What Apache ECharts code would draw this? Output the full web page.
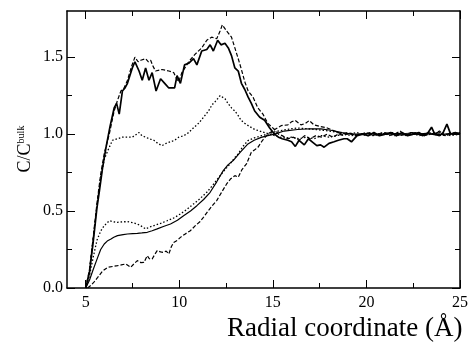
<!DOCTYPE html>
<html>
<head>
<meta charset="utf-8">
<script src="https://cdn.jsdelivr.net/npm/echarts@6/dist/echarts.min.js"></script>
<style>
html,body{margin:0;padding:0;background:#fff;}
#chart{width:471px;height:343px;}
</style>
</head>
<body>
<div id="chart"></div>
<script>
// ---- data ----
const xMajorTicks = [5, 10, 15, 20, 25];
const xMinorTicks = [7.5, 12.5, 17.5, 22.5];
const yMajorTicks = [0, 0.5, 1.0, 1.5];
const yMinorTicks = [0.25, 0.75, 1.25];

const upperSolid = [[5.0,0],[5.2,0.1],[5.4,0.3],[5.6,0.52],[5.73,0.63],[5.9,0.78],[6.08,0.91],[6.3,1.05],[6.52,1.17],[6.65,1.2],[6.79,1.13],[6.96,1.28],[7.1,1.3],[7.23,1.33],[7.49,1.43],[7.63,1.47],[7.85,1.41],[8.02,1.35],[8.2,1.43],[8.38,1.35],[8.55,1.40],[8.76,1.28],[9.0,1.36],[9.22,1.33],[9.44,1.30],[9.75,1.30],[9.88,1.38],[10.06,1.33],[10.28,1.45],[10.5,1.46],[10.76,1.49],[10.94,1.45],[11.2,1.54],[11.47,1.55],[11.65,1.58],[11.82,1.54],[12.05,1.61],[12.23,1.58],[12.44,1.59],[12.62,1.56],[12.79,1.51],[12.97,1.43],[13.15,1.41],[13.32,1.33],[13.5,1.29],[13.68,1.24],[13.85,1.20],[14.03,1.15],[14.3,1.11],[14.56,1.09],[14.83,1.04],[15.09,1.0],[15.3,0.98],[15.5,0.97],[15.8,0.96],[16.0,0.95],[16.2,0.92],[16.4,0.96],[16.68,0.93],[16.9,0.97],[17.1,0.95],[17.35,0.925],[17.55,0.93],[17.74,0.915],[18.0,0.94],[18.27,0.95],[18.5,0.96],[18.8,0.97],[18.97,0.97],[19.2,0.95],[19.5,0.99],[19.8,1.0],[20.1,0.99],[20.4,1.01],[20.7,0.99],[21.0,1.0],[21.3,1.01],[21.6,0.99],[21.9,1.01],[22.2,0.99],[22.5,1.0],[22.8,1.01],[23.1,0.99],[23.3,1.01],[23.48,1.045],[23.65,1.0],[23.9,0.99],[24.1,1.01],[24.3,1.065],[24.5,1.0],[24.75,1.01],[25,1.0]];

const upperDashed = [[5.0,0],[5.2,0.12],[5.4,0.33],[5.6,0.55],[5.8,0.74],[6.0,0.88],[6.26,1.0],[6.52,1.15],[6.7,1.22],[6.88,1.28],[7.05,1.30],[7.23,1.35],[7.45,1.44],[7.63,1.50],[7.8,1.47],[7.94,1.48],[8.2,1.49],[8.35,1.47],[8.47,1.48],[8.6,1.44],[8.73,1.41],[9.08,1.42],[9.44,1.41],[9.7,1.40],[9.85,1.36],[9.97,1.34],[10.14,1.40],[10.3,1.43],[10.5,1.47],[10.85,1.52],[11.2,1.56],[11.47,1.61],[11.73,1.63],[12.0,1.62],[12.18,1.67],[12.3,1.71],[12.53,1.67],[12.79,1.63],[12.97,1.56],[13.15,1.49],[13.32,1.42],[13.5,1.34],[13.68,1.28],[13.94,1.24],[14.2,1.17],[14.47,1.13],[14.73,1.07],[15.09,1.03],[15.3,1.0],[15.5,0.99],[15.8,0.97],[16.1,0.98],[16.4,0.96],[16.7,0.99],[17.0,0.97],[17.3,0.99],[17.6,0.98],[17.9,1.0],[18.2,0.98],[18.5,1.0],[18.8,0.99],[19.1,1.01],[19.4,0.99],[19.7,1.0],[20.0,1.01],[20.3,0.99],[20.6,1.0],[20.9,1.01],[21.2,0.99],[21.5,1.0],[21.8,1.02],[22.1,0.99],[22.4,1.01],[22.7,1.0],[23.0,0.99],[23.3,1.01],[23.6,1.0],[23.9,1.02],[24.2,0.99],[24.5,1.01],[24.8,1.0],[25,1.01]];

const upperDotted = [[5.0,0],[5.2,0.11],[5.4,0.32],[5.6,0.54],[5.8,0.72],[6.0,0.84],[6.17,0.89],[6.43,0.96],[6.7,0.97],[6.96,0.98],[7.2,0.98],[7.49,0.98],[7.85,1.01],[8.0,0.99],[8.2,0.98],[8.4,0.97],[8.64,0.96],[8.85,0.94],[9.08,0.925],[9.3,0.94],[9.53,0.95],[9.75,0.96],[9.97,0.98],[10.25,0.99],[10.5,1.01],[10.75,1.04],[11.03,1.07],[11.3,1.11],[11.56,1.15],[11.75,1.19],[11.91,1.21],[12.05,1.23],[12.18,1.25],[12.44,1.23],[12.6,1.2],[12.79,1.17],[12.97,1.15],[13.15,1.12],[13.3,1.09],[13.5,1.07],[13.75,1.05],[14.03,1.03],[14.3,1.02],[14.56,1.01],[14.83,1.0],[15.09,0.99],[15.4,0.98],[15.7,0.975],[16.0,0.98],[16.4,0.97],[16.8,0.98],[17.2,0.97],[17.6,0.99],[18.0,0.98],[18.4,0.99],[18.8,1.0],[19.2,0.99],[19.6,1.0],[20.0,1.0],[20.4,0.99],[20.8,1.0],[21.2,1.01],[21.6,0.99],[22.0,1.0],[22.4,1.01],[22.8,0.99],[23.2,1.0],[23.6,1.01],[24.0,0.99],[24.4,1.0],[24.8,1.01],[25,1.0]];

const lowerDotted = [[5.0,0],[5.2,0.08],[5.4,0.2],[5.6,0.31],[5.8,0.37],[5.99,0.405],[6.26,0.437],[6.5,0.43],[6.7,0.427],[6.95,0.43],[7.23,0.431],[7.5,0.425],[7.76,0.416],[8.0,0.40],[8.2,0.384],[8.4,0.395],[8.64,0.405],[9.0,0.42],[9.35,0.437],[9.7,0.455],[10.06,0.481],[10.4,0.51],[10.76,0.546],[11.1,0.58],[11.47,0.622],[11.8,0.67],[12.18,0.73],[12.45,0.77],[12.71,0.806],[12.95,0.845],[13.15,0.871],[13.4,0.92],[13.67,0.958],[14.0,0.975],[14.4,0.99],[14.73,1.0],[15.1,1.015],[15.5,1.025],[16.0,1.035],[16.3,1.04],[16.8,1.035],[17.3,1.03],[18.0,1.02],[18.5,1.01],[19.0,1.0],[19.5,1.01],[20.0,0.99],[20.5,1.0],[21.0,1.01],[21.5,0.99],[22.0,1.0],[22.5,1.01],[23.0,0.99],[23.5,1.0],[24.0,1.01],[24.5,0.99],[25,1.0]];

const lowerSolid = [[5.0,0],[5.2,0.05],[5.4,0.12],[5.64,0.199],[5.8,0.25],[5.99,0.286],[6.15,0.305],[6.35,0.318],[6.5,0.33],[6.7,0.34],[7.0,0.347],[7.23,0.351],[7.5,0.353],[7.76,0.355],[8.0,0.358],[8.29,0.362],[8.55,0.372],[8.82,0.384],[9.15,0.40],[9.53,0.416],[9.9,0.44],[10.23,0.47],[10.6,0.50],[10.94,0.535],[11.3,0.575],[11.65,0.622],[12.0,0.69],[12.35,0.763],[12.6,0.80],[12.88,0.828],[13.24,0.88],[13.67,0.936],[14.0,0.96],[14.38,0.979],[14.73,0.99],[15.09,1.0],[15.6,1.02],[16.32,1.03],[17.0,1.035],[17.56,1.034],[18.1,1.025],[18.7,1.01],[19.2,1.0],[19.7,1.0],[20.2,1.005],[20.7,0.995],[21.2,1.0],[21.7,1.005],[22.2,0.995],[22.7,1.0],[23.2,1.005],[23.7,0.995],[24.2,1.0],[24.7,1.005],[25,1.0]];

const lowerDashed = [[5.1,0],[5.3,0.02],[5.45,0.04],[5.64,0.069],[5.9,0.11],[6.17,0.134],[6.45,0.14],[6.7,0.145],[6.9,0.15],[7.14,0.156],[7.4,0.134],[7.6,0.16],[7.76,0.178],[7.95,0.165],[8.11,0.166],[8.29,0.21],[8.4,0.19],[8.55,0.188],[8.7,0.22],[8.82,0.243],[9.0,0.235],[9.17,0.231],[9.3,0.24],[9.44,0.221],[9.58,0.27],[9.7,0.296],[9.9,0.31],[10.06,0.329],[10.3,0.35],[10.59,0.372],[10.9,0.41],[11.1,0.43],[11.29,0.459],[11.6,0.51],[11.8,0.54],[12.0,0.568],[12.25,0.62],[12.53,0.676],[12.75,0.71],[12.97,0.73],[13.15,0.72],[13.35,0.77],[13.59,0.806],[13.85,0.882],[14.05,0.90],[14.2,0.914],[14.45,0.96],[14.73,1.0],[15.1,1.03],[15.44,1.055],[15.8,1.06],[16.0,1.08],[16.2,1.088],[16.5,1.06],[16.75,1.07],[16.94,1.088],[17.2,1.06],[17.5,1.05],[17.9,1.04],[18.3,1.02],[18.7,1.0],[19.0,1.01],[19.4,0.99],[19.8,1.0],[20.2,1.01],[20.6,0.99],[21.0,1.0],[21.4,1.01],[21.8,0.99],[22.2,1.0],[22.6,1.01],[23.0,0.99],[23.4,1.0],[23.8,1.01],[24.2,0.99],[24.6,1.0],[25,1.01]];

const xTitle = 'Radial coordinate (Å)';

// ---- chart ----
const FONT = '"Liberation Serif","DejaVu Serif",serif';
const X_MIN = 4, X_MAX = 25, Y_MIN = 0, Y_MAX = 1.8;
const lineW = 1.5;

function xAx(pos, ticks, len, showLine, showLabel) {
  return {
    type: 'value', position: pos, min: X_MIN, max: X_MAX,
    axisLine: {show: showLine, onZero: false, lineStyle: {color: '#000', width: lineW}},
    axisTick: {show: true, inside: true, length: len, customValues: ticks, lineStyle: {color: '#000', width: 1}},
    axisLabel: showLabel ? {show: true, customValues: ticks, margin: 7, color: '#000', fontFamily: FONT, fontSize: 16, formatter: v => String(v)} : {show: false},
    splitLine: {show: false}
  };
}
function yAx(pos, ticks, len, showLine, showLabel) {
  return {
    type: 'value', position: pos, min: Y_MIN, max: Y_MAX,
    axisLine: {show: showLine, onZero: false, lineStyle: {color: '#000', width: lineW}},
    axisTick: {show: true, inside: true, length: len, customValues: ticks, lineStyle: {color: '#000', width: 1}},
    axisLabel: showLabel ? {show: true, customValues: ticks, margin: 4, color: '#000', fontFamily: FONT, fontSize: 16, formatter: v => v.toFixed(1)} : {show: false},
    splitLine: {show: false}
  };
}

function mk(data, type, width) {
  return {
    type: 'line', data: data, xAxisIndex: 0, yAxisIndex: 0,
    showSymbol: false, symbol: 'none', smooth: false, silent: true,
    lineStyle: {color: '#000', width: width, type: type},
    clip: true
  };
}

const chart = echarts.init(document.getElementById('chart'), null, {renderer: 'canvas'});
chart.setOption({
  animation: false,
  backgroundColor: '#fff',
  grid: {left: 67, right: 8, top: 11, bottom: 55, containLabel: false},
  xAxis: [
    xAx('bottom', xMajorTicks, 8, true, true),
    xAx('bottom', xMinorTicks, 5, false, false),
    xAx('top', xMajorTicks, 8, true, false),
    xAx('top', xMinorTicks, 5, false, false)
  ],
  yAxis: [
    yAx('left', yMajorTicks, 8, true, true),
    yAx('left', yMinorTicks, 5, false, false),
    yAx('right', yMajorTicks, 8, true, false),
    yAx('right', yMinorTicks, 5, false, false)
  ],
  series: [
    mk(upperSolid, 'solid', 1.7),
    mk(upperDashed, [4, 2], 1.2),
    mk(upperDotted, [1.5, 2], 1.3),
    mk(lowerDotted, [1.5, 2], 1.3),
    mk(lowerSolid, 'solid', 1.2),
    mk(lowerDashed, [4, 2], 1.2)
  ],
  graphic: [
    {
      type: 'text', left: 227, top: 315,
      style: {text: xTitle, font: '27px ' + FONT, fill: '#000'}
    },
    {
      type: 'text', x: 25, y: 149, rotation: Math.PI / 2,
      style: {
        text: 'C/C{b|bulk}', fill: '#000', align: 'center', verticalAlign: 'middle',
        fontFamily: FONT, fontSize: 18,
        rich: {b: {fontFamily: FONT, fontSize: 10, verticalAlign: 'top', lineHeight: 10}}
      }
    }
  ]
});
</script>
</body>
</html>
